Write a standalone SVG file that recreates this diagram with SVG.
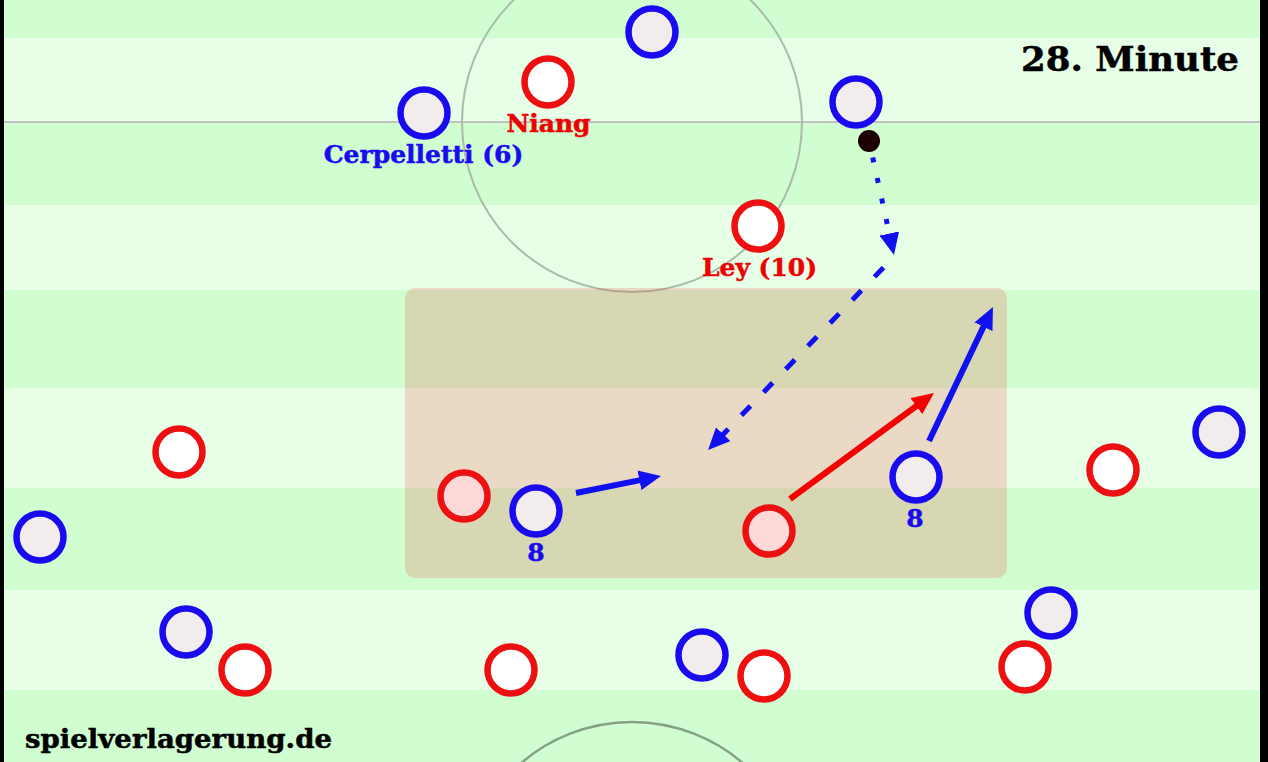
<svg xmlns="http://www.w3.org/2000/svg" width="1268" height="762" viewBox="0 0 1268 762">
<defs>
<style>
.dark{fill:#d1fed1}
.light{fill:#e7ffe7}
.pb{fill:#f2ecec;stroke:#1a0af0;stroke-width:6.5}
.pr{fill:#ffffff;stroke:#ee1010;stroke-width:6.5}
.prb{fill:#ffd8d8;stroke:#ee1010;stroke-width:6.5}
.lbl{font-family:"DejaVu Serif","Liberation Serif",serif;font-weight:bold;font-size:25px;stroke-width:0.5}
.bt{fill:#1a0af0;stroke:#1a0af0}
.rt{fill:#ee0000;stroke:#ee0000}
.blk{fill:#000000;stroke:#000000;stroke-width:0.5;font-family:"DejaVu Serif","Liberation Serif",serif;font-weight:bold}
.ab{stroke:#1010f0;fill:none}
.ar{stroke:#f50000;fill:none}
</style>
<marker id="hb" markerUnits="userSpaceOnUse" markerWidth="22" markerHeight="20" viewBox="0 0 22 20" refX="1" refY="10" orient="auto">
<path d="M0,0 L22,10 L0,20 z" fill="#1010f0"/>
</marker>
<marker id="hr" markerUnits="userSpaceOnUse" markerWidth="22" markerHeight="20" viewBox="0 0 22 20" refX="1" refY="10" orient="auto">
<path d="M0,0 L22,10 L0,20 z" fill="#f50000"/>
</marker>
</defs>
<g id="pitch">
<rect class="dark" x="0" y="0" width="1268" height="38"/>
<rect class="light" x="0" y="38" width="1268" height="84"/>
<rect class="dark" x="0" y="122" width="1268" height="83"/>
<rect class="light" x="0" y="205" width="1268" height="85"/>
<rect class="dark" x="0" y="290" width="1268" height="98"/>
<rect class="light" x="0" y="388" width="1268" height="100"/>
<rect class="dark" x="0" y="488" width="1268" height="102"/>
<rect class="light" x="0" y="590" width="1268" height="100"/>
<rect class="dark" x="0" y="690" width="1268" height="72"/>
<line x1="4" y1="122" x2="1260" y2="122" stroke="#c0c0c0" stroke-width="2"/>
<circle cx="632" cy="122" r="170" fill="none" stroke="#aabbaa" stroke-width="2"/>
<circle cx="632" cy="892" r="170" fill="none" stroke="#86a086" stroke-width="2.5"/>
<rect x="0" y="0" width="4" height="762" fill="#000"/>
<rect x="1260" y="0" width="8" height="762" fill="#000"/>
</g>
<g id="zone">
<rect x="405" y="288" width="602" height="290" rx="10" fill="#f52a2a" fill-opacity="0.18"/>
</g>
<g id="players-blue">
<circle id="b1" class="pb" cx="652" cy="32" r="23.5"/>
<circle id="b2" class="pb" cx="424" cy="113" r="23.5"/>
<circle id="b3" class="pb" cx="856" cy="102" r="23.5"/>
<circle id="b4" class="pb" cx="1219" cy="432" r="23.5"/>
<circle id="b5" class="pb" cx="40" cy="537" r="23.5"/>
<circle id="b6" class="pb" cx="536" cy="511" r="23.5"/>
<circle id="b7" class="pb" cx="916" cy="477" r="23.5"/>
<circle id="b8" class="pb" cx="186" cy="632" r="23.5"/>
<circle id="b9" class="pb" cx="702" cy="655" r="23.5"/>
<circle id="b10" class="pb" cx="1051" cy="613" r="23.5"/>
</g>
<g id="players-red">
<circle id="r1" class="pr" cx="548" cy="82" r="23.5"/>
<circle id="r2" class="pr" cx="758" cy="226" r="23.5"/>
<circle id="r3" class="pr" cx="179" cy="452" r="23.5"/>
<circle id="r4" class="prb" cx="464" cy="496" r="23.5"/>
<circle id="r5" class="prb" cx="769" cy="531" r="23.5"/>
<circle id="r6" class="pr" cx="1113" cy="470" r="23.5"/>
<circle id="r7" class="pr" cx="245" cy="670" r="23.5"/>
<circle id="r8" class="pr" cx="511" cy="670" r="23.5"/>
<circle id="r9" class="pr" cx="764" cy="676" r="23.5"/>
<circle id="r10" class="pr" cx="1025" cy="667" r="23.5"/>
</g>
<g id="ball">
<circle cx="869" cy="141" r="11" fill="#1a0000"/>
</g>
<g id="connectors">
<line class="ab" x1="872.7" y1="157.5" x2="889.5" y2="234.5" stroke-width="5" stroke-dasharray="5 16" marker-end="url(#hb)"/>
<line class="ab" x1="883.5" y1="267.5" x2="722.6" y2="434.9" stroke-width="5" stroke-dasharray="13 19" marker-end="url(#hb)"/>
<line class="ab" x1="576" y1="493" x2="640.4" y2="480.1" stroke-width="6" marker-end="url(#hb)"/>
<line class="ar" x1="790" y1="499" x2="917.1" y2="405.5" stroke-width="6" marker-end="url(#hr)"/>
<line class="ab" x1="929" y1="441" x2="983.9" y2="325.9" stroke-width="6" marker-end="url(#hb)"/>
</g>
<g id="labels">
<text class="lbl rt" x="548.5" y="132" text-anchor="middle">Niang</text>
<text class="lbl bt" x="423.5" y="163" text-anchor="middle">Cerpelletti (6)</text>
<text class="lbl rt" x="759.5" y="276" text-anchor="middle">Ley (10)</text>
<text class="lbl bt" x="536" y="561" text-anchor="middle">8</text>
<text class="lbl bt" x="915" y="527" text-anchor="middle">8</text>
<text class="blk" x="1021" y="71" font-size="33" textLength="218" lengthAdjust="spacingAndGlyphs">28. Minute</text>
<text class="blk" x="25" y="748" font-size="26" textLength="307" lengthAdjust="spacingAndGlyphs">spielverlagerung.de</text>
</g>
</svg>
